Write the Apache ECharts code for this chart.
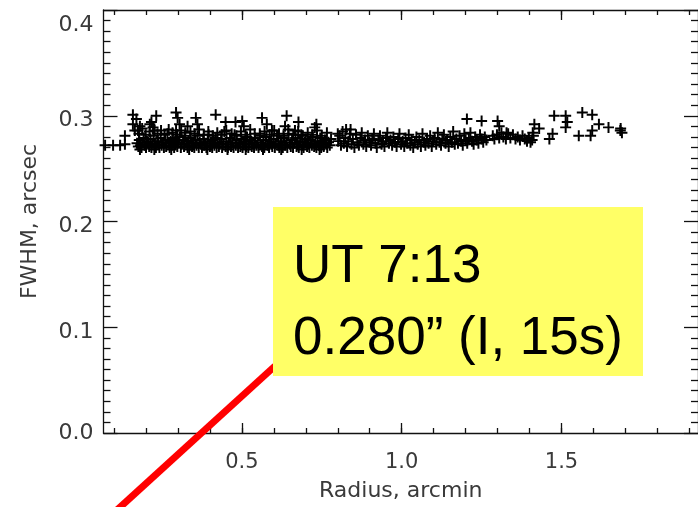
<!DOCTYPE html>
<html>
<head>
<meta charset="utf-8">
<script src="https://cdn.jsdelivr.net/npm/echarts@6/dist/echarts.min.js"></script>
<style>html,body{margin:0;padding:0;background:#fff;}#c{width:698px;height:507px;}</style>
</head>
<body>
<div id="c"></div>
<script>
// ---- data ----
const xMajorTicks = [0.5, 1.0, 1.5];
const xMinorTicks = [0.1,0.2,0.3,0.4,0.5,0.6,0.7,0.8,0.9,1.0,1.1,1.2,1.3,1.4,1.5,1.6,1.7,1.8,1.9];
const yTickLabels = [0.0, 0.1, 0.2, 0.3, 0.4];
const xTitle = 'Radius, arcmin';
const yTitle = 'FWHM, arcsec';
const noteLines = ['UT 7:13', '0.280\u201D (I, 15s)'];

// radius (arcmin), FWHM (arcsec) pairs: dense band
const bandLeft = [
[0.072,0.272],[0.097,0.272],[0.119,0.272],[0.134,0.273],[0.134,0.281],
[0.172,0.274],[0.176,0.271],[0.179,0.277],[0.183,0.272],[0.186,0.270],[0.19,0.275],[0.193,0.279],[0.196,0.272],[0.2,0.270],[0.203,0.276],
[0.207,0.273],[0.21,0.271],[0.214,0.278],[0.217,0.270],[0.221,0.274],[0.224,0.281],[0.228,0.272],[0.231,0.27],[0.235,0.276],[0.238,0.273],
[0.242,0.27],[0.246,0.279],[0.249,0.272],[0.253,0.275],[0.256,0.27],[0.26,0.277],[0.263,0.271],[0.267,0.283],[0.27,0.274],[0.274,0.27],
[0.277,0.276],[0.281,0.272],[0.284,0.279],[0.288,0.27],[0.291,0.273],[0.295,0.277],[0.298,0.271],[0.302,0.275],[0.305,0.28],[0.309,0.27],
[0.312,0.273],[0.316,0.277],[0.319,0.271],[0.323,0.284],[0.326,0.274],[0.33,0.27],[0.333,0.276],[0.337,0.272],[0.34,0.279],[0.344,0.271],
[0.347,0.274],[0.351,0.27],[0.354,0.277],[0.358,0.272],[0.361,0.281],[0.365,0.27],[0.368,0.275],[0.372,0.273],[0.375,0.27],[0.379,0.278],
[0.382,0.272],[0.386,0.274],[0.389,0.27],[0.393,0.276],[0.396,0.282],[0.4,0.271],[0.403,0.274],[0.407,0.27],[0.41,0.277],[0.414,0.272],
[0.417,0.279],[0.421,0.27],[0.424,0.275],[0.428,0.271],[0.431,0.273],[0.435,0.278],[0.438,0.27],[0.442,0.274],[0.445,0.285],[0.449,0.271],
[0.452,0.276],[0.456,0.27],[0.459,0.273],[0.463,0.279],[0.466,0.271],[0.47,0.275],[0.474,0.27],[0.477,0.282],[0.481,0.272],[0.484,0.277],
[0.488,0.27],[0.491,0.274],[0.495,0.271],[0.498,0.278],[0.502,0.27],[0.506,0.273],[0.509,0.276],[0.513,0.271],[0.516,0.28],[0.52,0.27],
[0.523,0.274],[0.527,0.277],[0.531,0.271],[0.534,0.273],[0.538,0.27],[0.541,0.279],[0.545,0.272],[0.549,0.275],[0.552,0.27],[0.556,0.283],
[0.559,0.273],[0.563,0.271],[0.567,0.277],[0.57,0.27],[0.574,0.274],[0.577,0.28],[0.581,0.272],[0.585,0.27],[0.588,0.276],[0.592,0.273],
[0.595,0.271],[0.599,0.278],[0.603,0.27],[0.606,0.274],[0.61,0.281],[0.614,0.272],[0.617,0.27],[0.621,0.276],[0.624,0.273],[0.628,0.27],
[0.632,0.279],[0.635,0.272],[0.639,0.275],[0.642,0.27],[0.646,0.283],[0.65,0.273],[0.653,0.271],[0.657,0.277],[0.66,0.27],[0.664,0.274],
[0.668,0.279],[0.671,0.271],[0.675,0.273],[0.678,0.27],[0.682,0.276],[0.686,0.282],[0.689,0.272],[0.693,0.27],[0.697,0.275],[0.7,0.278],
[0.704,0.271],[0.708,0.273],[0.711,0.27],[0.715,0.277],[0.719,0.272],[0.722,0.28],[0.726,0.271],[0.73,0.274],[0.733,0.27],[0.737,0.276],
[0.741,0.272],[0.745,0.279],[0.748,0.27],[0.752,0.274],[0.756,0.271],[0.76,0.277],[0.764,0.273],[0.767,0.27],[0.771,0.275],[0.775,0.272],[0.779,0.278]
];
// upper and lower edges of the dense band
const bandUpper = [
[0.165,0.286],[0.178,0.283],[0.188,0.288],[0.199,0.282],[0.211,0.285],[0.222,0.289],[0.236,0.283],[0.247,0.286],[0.258,0.282],[0.271,0.287],
[0.283,0.284],[0.297,0.282],[0.31,0.286],[0.322,0.281],[0.339,0.285],[0.352,0.283],[0.366,0.287],[0.381,0.282],[0.395,0.285],[0.409,0.281],
[0.423,0.284],[0.437,0.282],[0.451,0.286],[0.468,0.283],[0.483,0.281],[0.497,0.285],[0.511,0.282],[0.526,0.287],[0.54,0.283],[0.557,0.281],
[0.571,0.285],[0.587,0.282],[0.601,0.286],[0.616,0.283],[0.63,0.281],[0.645,0.287],[0.661,0.282],[0.676,0.285],[0.69,0.281],[0.706,0.284],
[0.72,0.282],[0.735,0.286],[0.75,0.281],[0.766,0.284],
[0.181,0.268],[0.226,0.268],[0.279,0.268],[0.335,0.268],[0.392,0.268],[0.455,0.268],[0.512,0.268],[0.566,0.268],[0.623,0.268],[0.687,0.268],[0.743,0.268]
];
const bandRight = [
[0.801,0.276],[0.806,0.281],[0.81,0.272],[0.815,0.285],[0.819,0.274],[0.824,0.279],[0.829,0.271],[0.833,0.276],[0.838,0.283],[0.843,0.273],
[0.847,0.278],[0.852,0.27],[0.857,0.282],[0.861,0.275],[0.866,0.272],[0.871,0.279],[0.875,0.284],[0.88,0.273],[0.885,0.277],[0.889,0.271],
[0.894,0.281],[0.899,0.275],[0.904,0.272],[0.908,0.278],[0.913,0.283],[0.918,0.274],[0.922,0.27],[0.927,0.277],[0.932,0.281],[0.937,0.273],
[0.941,0.276],[0.946,0.271],[0.951,0.279],[0.955,0.284],[0.96,0.274],[0.965,0.277],[0.97,0.272],[0.974,0.28],[0.979,0.275],[0.984,0.271],
[0.989,0.278],[0.993,0.283],[0.998,0.273],[1.003,0.276],[1.008,0.271],[1.012,0.279],[1.017,0.274],[1.022,0.282],[1.027,0.272],[1.031,0.277],
[1.036,0.27],[1.041,0.275],[1.046,0.28],[1.05,0.273],[1.055,0.277],[1.06,0.271],[1.065,0.283],[1.07,0.275],[1.074,0.272],[1.079,0.278],
[1.084,0.274],[1.089,0.281],[1.094,0.271],[1.098,0.276],[1.103,0.279],[1.108,0.273],[1.113,0.284],[1.118,0.275],[1.123,0.272],[1.127,0.278],
[1.132,0.282],[1.137,0.274],[1.142,0.277],[1.147,0.271],[1.152,0.28],[1.157,0.275],[1.161,0.285],[1.166,0.273],[1.171,0.278],[1.176,0.274],
[1.181,0.281],[1.186,0.276],[1.191,0.272],[1.196,0.283],[1.2,0.277],[1.205,0.274],[1.21,0.279],[1.215,0.284],[1.22,0.276],[1.225,0.273],
[1.23,0.28],[1.235,0.277],[1.24,0.274],[1.245,0.282],[1.25,0.278],[1.255,0.275],[1.26,0.28],[1.265,0.277],
[1.285,0.281],[1.29,0.278],[1.298,0.282],[1.305,0.279],[1.312,0.284],[1.318,0.28],[1.326,0.278],[1.333,0.283],[1.34,0.279],[1.348,0.282],
[1.356,0.278],[1.363,0.28],[1.37,0.277],[1.378,0.281],[1.385,0.278],[1.392,0.276],[1.398,0.279],[1.403,0.275],[1.408,0.277],[1.412,0.281]
];
// scattered high points
const outliers = [
[0.159,0.301],[0.17,0.297],[0.159,0.292],[0.181,0.29],[0.175,0.286],[0.212,0.292],[0.217,0.294],[0.232,0.30],[0.227,0.286],
[0.294,0.303],[0.299,0.298],[0.305,0.292],[0.294,0.286],[0.33,0.29],[0.356,0.298],[0.361,0.292],[0.418,0.301],[0.449,0.294],
[0.48,0.294],[0.501,0.295],[0.506,0.29],[0.563,0.298],[0.578,0.292],[0.594,0.286],[0.64,0.30],[0.635,0.29],[0.677,0.294],
[0.666,0.286],[0.733,0.292],[0.728,0.289],[0.80,0.283],[0.826,0.287],[0.84,0.287],
[1.204,0.297],[1.25,0.295],[1.30,0.295],[1.305,0.29],[1.328,0.284],[1.415,0.292],[1.41,0.284],[1.43,0.288],
[1.462,0.278],[1.472,0.283],[1.477,0.30],[1.513,0.30],[1.518,0.294],[1.513,0.289],[1.565,0.303],[1.596,0.301],
[1.617,0.292],[1.596,0.286],[1.591,0.281],[1.554,0.281],[1.647,0.289],[1.684,0.286],[1.689,0.284],[1.685,0.288]
];

const points = bandLeft.concat(bandUpper, bandRight, outliers);

const plusPath = 'path://M41,0H59V41H100V59H59V100H41V59H0V41H41Z';
const axisCol = '#111';
const labCol = '#3a3a3a';
const labFont = 'DejaVu Sans';

const chart = echarts.init(document.getElementById('c'), null, {renderer: 'canvas'});
const xRange = {min: 0.067, max: 1.927};
const gridBox = {left: 103.5, top: 10, width: 600, height: 427};

chart.setOption({
  animation: false,
  backgroundColor: '#ffffff',
  grid: Object.assign({containLabel: false}, gridBox),
  xAxis: [
    { type: 'value', position: 'bottom', min: xRange.min, max: xRange.max,
      axisLine: {show: true, lineStyle: {color: axisCol, width: 1.3}},
      axisTick: {show: true, inside: true, length: 10, customValues: xMajorTicks, lineStyle: {color: axisCol, width: 1.3}},
      axisLabel: {show: true, customValues: xMajorTicks, margin: 19, color: labCol, fontFamily: labFont, fontSize: 21,
                  formatter: v => v.toFixed(1)},
      splitLine: {show: false},
      name: xTitle, nameLocation: 'middle', nameGap: 47,
      nameTextStyle: {color: labCol, fontFamily: labFont, fontSize: 22}
    },
    { type: 'value', position: 'bottom', min: xRange.min, max: xRange.max,
      axisLine: {show: false},
      axisTick: {show: true, inside: true, length: 5, customValues: xMinorTicks, lineStyle: {color: axisCol, width: 1.3}},
      axisLabel: {show: false}, splitLine: {show: false}
    },
    { type: 'value', position: 'top', min: xRange.min, max: xRange.max,
      axisLine: {show: true, lineStyle: {color: axisCol, width: 1.3}},
      axisTick: {show: true, inside: true, length: 10, customValues: xMajorTicks, lineStyle: {color: axisCol, width: 1.3}},
      axisLabel: {show: false}, splitLine: {show: false}
    },
    { type: 'value', position: 'top', min: xRange.min, max: xRange.max,
      axisLine: {show: false},
      axisTick: {show: true, inside: true, length: 5, customValues: xMinorTicks, lineStyle: {color: axisCol, width: 1.3}},
      axisLabel: {show: false}, splitLine: {show: false}
    }
  ],
  yAxis: [
    { type: 'value', position: 'left', min: yTickLabels[0], max: yTickLabels[yTickLabels.length-1], interval: 0.1,
      axisLine: {show: true, lineStyle: {color: axisCol, width: 1.3}},
      axisTick: {show: true, inside: true, length: 14, lineStyle: {color: axisCol, width: 1.3}},
      minorTick: {show: true, splitNumber: 10, length: 7, lineStyle: {color: axisCol, width: 1.3}},
      axisLabel: {show: true, margin: 10, color: labCol, fontFamily: labFont, fontSize: 22,
        formatter: v => {
          const s = v.toFixed(1);
          if (Math.abs(v - 0.4) < 1e-9) return '{t|' + s + '}';
          if (Math.abs(v) < 1e-9) return '{b|' + s + '}';
          return '{m|' + s + '}';
        },
        rich: {
          t: {color: labCol, fontFamily: labFont, fontSize: 22, padding: [30, 0, 0, 0]},
          m: {color: labCol, fontFamily: labFont, fontSize: 22, padding: [10, 0, 0, 0]},
          b: {color: labCol, fontFamily: labFont, fontSize: 22, padding: [0, 0, 0, 0]}
        }
      },
      splitLine: {show: false}, minorSplitLine: {show: false},
      name: yTitle, nameLocation: 'middle', nameGap: 62,
      nameTextStyle: {color: labCol, fontFamily: labFont, fontSize: 22}
    },
    { type: 'value', position: 'right', min: yTickLabels[0], max: yTickLabels[yTickLabels.length-1], interval: 0.1,
      axisLine: {show: true, lineStyle: {color: axisCol, width: 1.3}},
      axisTick: {show: true, inside: true, length: 14, lineStyle: {color: axisCol, width: 1.3}},
      minorTick: {show: true, splitNumber: 10, length: 7, lineStyle: {color: axisCol, width: 1.3}},
      axisLabel: {show: false}, splitLine: {show: false}
    }
  ],
  series: [{
    type: 'scatter',
    xAxisIndex: 0, yAxisIndex: 0,
    data: points,
    symbol: plusPath,
    symbolSize: 11,
    itemStyle: {color: '#000', opacity: 1},
    silent: true,
    clip: false
  }],
  graphic: [
    { type: 'line', z: 100, shape: {x1: 275, y1: 366, x2: 106, y2: 520},
      style: {stroke: '#ff0000', lineWidth: 7} },
    { type: 'rect', z: 101, shape: {x: 273, y: 207, width: 370, height: 169},
      style: {fill: '#ffff66'} },
    { type: 'text', z: 102, left: 293, top: 241,
      style: {text: noteLines[0], fill: '#000', font: '53px "Liberation Sans", Arial, sans-serif'} },
    { type: 'text', z: 102, left: 293, top: 313,
      style: {text: noteLines[1], fill: '#000', font: '53px "Liberation Sans", Arial, sans-serif'} }
  ]
});
</script>
</body>
</html>
